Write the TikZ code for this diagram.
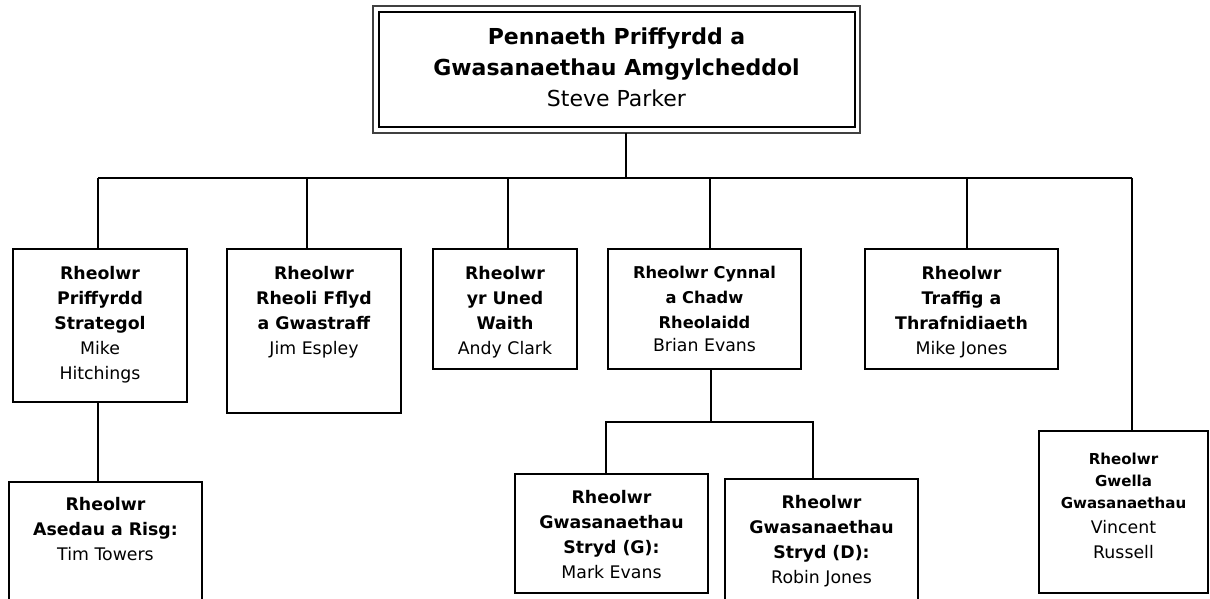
\documentclass[tikz,border=0pt]{standalone}
\usepackage{fontspec}
\setmainfont{DejaVu Sans}
\usetikzlibrary{positioning}
\newcommand{\smbf}[1]{{\fontsize{12.2}{17}\selectfont\bfseries #1}}
\newcommand{\tnbf}[1]{{\fontsize{11.3}{16.5}\selectfont\bfseries #1}}
\begin{document}
\begin{tikzpicture}
        [x=0.75pt,y=-0.75pt,
         box/.style={draw,line width=1.4pt,inner sep=0pt,outer sep=0pt,anchor=north west},
         txt/.style={align=center,inner sep=0pt,font=\fontsize{13}{18.75}\selectfont},
         link/.style={line width=1.4pt}]
        \useasboundingbox (0,0) rectangle (1210,599);
        \clip (0,0) rectangle (1210,599);

        % head
        \node[box,line width=1.1pt,draw=black!75,minimum width=365.25pt,minimum height=95.25pt] (top) at (373,6) {};
        \draw[line width=1.7pt] ([shift={(6,6)}]top.north west) rectangle ([shift={(-5,-6)}]top.south east);
        \node[txt,font=\fontsize{16.5}{22.9}\selectfont,below=16.5pt of top.north] (top-txt)
          {\textbf{Pennaeth Priffyrdd a}\\ \textbf{Gwasanaethau Amgylcheddol}\\ Steve Parker};

        % first row
        \node[box,minimum width=130.5pt,minimum height=114.75pt] (strat) at (13,249) {};
        \node[box,minimum width=130.5pt,minimum height=123pt] (fflyd) at (227,249) {};
        \node[box,minimum width=108pt,minimum height=90pt] (uned) at (433,249) {};
        \node[box,minimum width=144.75pt,minimum height=90pt] (cynnal) at (608,249) {};
        \node[box,minimum width=144.75pt,minimum height=90pt] (traffig) at (865,249) {};
        \node[box,minimum width=126.75pt,minimum height=121.5pt] (gwella) at (1039,431) {};

        \node[txt,below=13pt of strat.north] (strat-txt)
          {\textbf{Rheolwr}\\ \textbf{Priffyrdd}\\ \textbf{Strategol}\\ Mike\\ Hitchings};
        \node[txt,below=13pt of fflyd.north] (fflyd-txt)
          {\textbf{Rheolwr}\\ \textbf{Rheoli Fflyd}\\ \textbf{a Gwastraff}\\ Jim Espley};
        \node[txt,below=13pt of uned.north] (uned-txt)
          {\textbf{Rheolwr}\\ \textbf{yr Uned}\\ \textbf{Waith}\\ Andy Clark};
        \node[txt,below=13pt of cynnal.north] (cynnal-txt)
          {\smbf{Rheolwr Cynnal}\\ \smbf{a Chadw}\\ \smbf{Rheolaidd}\\[-1.5pt] Brian Evans};
        \node[txt,below=13pt of traffig.north] (traffig-txt)
          {\textbf{Rheolwr}\\ \textbf{Traffig a}\\ \textbf{Thrafnidiaeth}\\ Mike Jones};
        \node[txt,below=16.5pt of gwella.north] (gwella-txt)
          {\tnbf{Rheolwr}\\[-2.2pt] \tnbf{Gwella}\\[-2.2pt] \tnbf{Gwasanaethau}\\ Vincent\\ Russell};

        % second row
        \node[box,minimum width=144.75pt,minimum height=112.5pt] (asedau) at (9,482) {};
        \node[box,minimum width=144.75pt,minimum height=89.25pt] (strydG) at (515,474) {};
        \node[box,minimum width=144.75pt,minimum height=112.5pt] (strydD) at (725,479) {};

        \node[txt,below=11.5pt of asedau.north] (asedau-txt)
          {\textbf{Rheolwr}\\ \textbf{Asedau a Risg:}\\ Tim Towers};
        \node[txt,below=12pt of strydG.north] (strydG-txt)
          {\textbf{Rheolwr}\\ \textbf{Gwasanaethau}\\ \textbf{Stryd (G):}\\ Mark Evans};
        \node[txt,below=12pt of strydD.north] (strydD-txt)
          {\textbf{Rheolwr}\\ \textbf{Gwasanaethau}\\ \textbf{Stryd (D):}\\ Robin Jones};

        % lines
        \coordinate (hub) at (626,178);
        \coordinate (d1) at (98,178);
        \coordinate (d2) at (307,178);
        \coordinate (d3) at (508,178);
        \coordinate (d4) at (710,178);
        \coordinate (d5) at (967,178);
        \coordinate (d6) at (1132,178);
        \coordinate (sub) at (711,422);
        \coordinate (sG) at (606,422);
        \coordinate (sD) at (813,422);

        \draw[link] (top.south -| hub) -- (hub);
        \draw[link] (d1) -- (d6);
        \foreach \d/\b in {d1/strat,d2/fflyd,d3/uned,d4/cynnal,d5/traffig,d6/gwella}
        {\draw[link] (\d) -- (\d |- \b.north);}
        \draw[link] (strat.south -| d1) -- (d1 |- asedau.north);
        \draw[link] (cynnal.south -| sub) -- (sub);
        \draw[link] (sG |- strydG.north) -- (sG) -- (sD) -- (sD |- strydD.north);
      \end{tikzpicture}
\end{document}
